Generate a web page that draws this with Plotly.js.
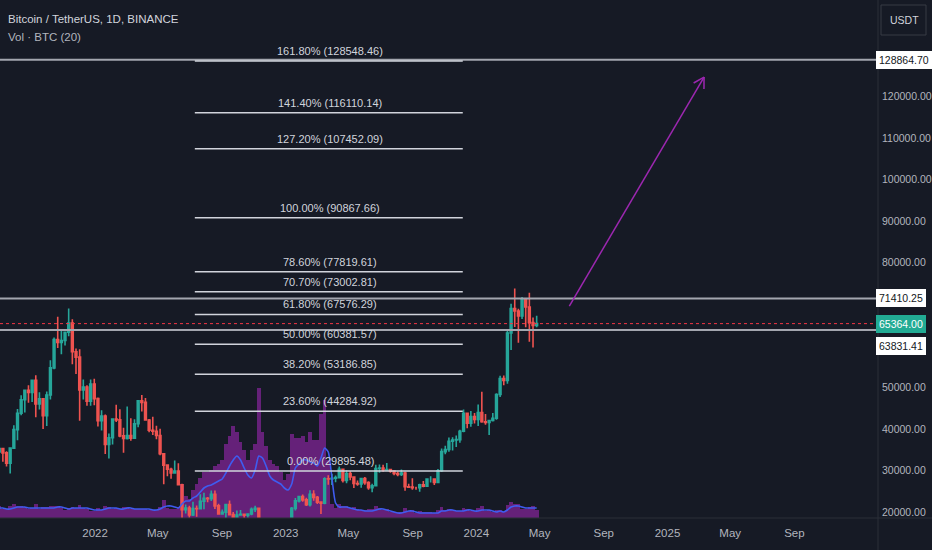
<!DOCTYPE html>
<html>
<head>
<meta charset="utf-8">
<script src="https://cdn.plot.ly/plotly-3.0.1.min.js"></script>
<style>
html,body{margin:0;padding:0;background:#161a25;}
#chart{width:932px;height:550px;}
</style>
</head>
<body>
<div id="chart"></div>
<script>
// ---------- DATA (weekly aggregation of BTC/USDT) ----------
const weekStart = '2021-06-28';
const firstOpen = 34500;
const highs = [36600,35400,34650,34500,40900,44800,48150,49400,50500,51900,
52920,48850,47350,49000,56550,62000,67000,63700,63000,69000,
66400,59400,59200,51900,50500,51900,52100,47600,44500,43500,
38900,42600,45850,44750,40300,45400,42600,42350,46950,48200,
47450,42400,42950,40800,40050,34250,31350,30650,32400,31750,
26800,21850,21550,22500,21600,24300,24650,23650,25200,25200,
22000,20600,21900,22800,20000,20400,20500,19550,19700,21100,
21500,21050,17200,16850,17400,17450,18400,17050,16950,17200,
21250,23400,23900,24250,23450,25250,25250,23900,22600,28400,
28850,29200,28800,31000,30450,30050,29850,28650,27600,28250,
28450,27450,26800,31400,31450,31400,31800,30350,29950,29750,
30250,29700,26800,28150,26100,26850,27500,28050,28600,28000,
30350,35300,35950,37950,38000,38450,39800,44700,43450,44350,
43850,45900,48950,43600,42200,43850,48600,52800,52900,64000,
70150,73800,68950,71750,71350,72800,66850,67250];
const lows = [32700,32100,31000,29280,35200,37300,43300,43950,46300,46500,
42800,44700,40000,40750,47100,54400,59500,58000,60100,62300,
55600,53250,42000,47100,45600,45600,45700,40600,39650,34000,
32900,36250,41700,38000,34300,37500,37200,37600,40450,44200,
42100,39200,38550,37550,33700,26700,28650,28000,29300,26550,
17600,19650,18650,19050,18900,20750,20700,22400,22650,20750,
19800,19550,18550,19350,18150,18450,19100,18200,18650,19250,
20050,15600,15800,15450,16000,16750,16550,16350,16350,16550,
17100,20400,22300,22500,21450,21350,22750,21950,19550,21900,
26600,26500,27200,28200,27150,26950,27650,25800,26350,25850,
26600,25350,24800,26250,29500,29700,30000,29500,28850,28600,
28700,25150,25800,25350,25350,24900,26000,26100,27150,26550,
27100,29650,33900,34500,34800,35650,36700,39200,40200,40550,
41300,40750,41500,41000,38550,41800,42250,47700,50550,50900,
59000,64550,60750,66500,64500,61000,59600,64500];
const closes = [35300,34250,31780,35400,39850,43800,47050,49300,48800,51750,
46000,47250,43200,48200,54700,61500,60850,61300,63300,65500,
58600,57300,49400,50100,46700,50800,47300,42000,43100,36300,
37900,42400,42200,38350,37700,38400,37800,41250,46800,46400,
42150,39700,39450,38450,34050,31300,30300,29450,29900,26600,
20550,21000,19300,20850,20800,22600,23300,23200,24300,21500,
19550,19950,21800,19400,18800,19300,19450,19250,19550,20650,
20900,16300,16280,16450,17100,17100,16750,16850,16600,17150,
20900,22700,23750,22950,21800,24300,23550,22400,22150,28000,
27950,28150,28300,30300,27600,29250,28450,26900,26750,28050,
27100,25850,26350,30500,30600,30150,30250,29850,29300,29050,
29400,26100,26000,25850,25850,26550,26250,27950,27950,27150,
29950,34550,35050,37050,37350,37450,39450,43800,41400,43000,
42300,43950,41750,41600,42050,42600,48300,52150,51700,63100,
69000,68400,67200,71300,69350,65650,64950,65364];
// Volume (thousand BTC per day, weekly view) and its 20-day moving average
const volume = [60,45,45,60,70,60,60,55,45,50,
70,45,55,55,60,60,60,50,40,50,
55,50,65,50,45,35,35,50,40,60,
55,45,50,45,55,55,45,45,45,45,
45,40,40,40,55,90,50,45,45,55,
170,110,95,140,170,200,230,230,240,260,
270,290,370,410,460,430,380,340,290,340,
370,650,430,360,290,270,260,230,190,220,
420,400,400,410,380,430,390,390,520,590,
290,70,50,70,60,60,50,55,45,40,
40,45,45,60,50,40,45,30,30,30,
30,50,35,40,25,35,30,30,30,25,
40,55,40,45,40,35,35,50,45,35,
35,50,60,35,40,30,40,40,30,65,
80,70,70,45,45,55,60,40];
const volMA = [50,50,45,45,50,55,55,55,50,50,
50,50,50,50,50,50,55,55,50,45,
50,50,50,50,50,45,40,40,40,45,
50,50,50,45,45,50,50,45,45,45,
45,45,40,40,45,55,60,60,55,50,
70,85,85,100,110,130,150,160,165,175,
185,195,225,260,290,310,290,250,215,200,
240,310,300,260,210,190,180,170,150,140,
170,250,270,290,290,280,275,260,300,350,
330,200,75,55,55,55,50,45,40,40,
35,35,35,40,45,45,40,35,30,25,
25,30,35,35,30,25,25,25,25,25,
25,35,35,40,40,35,35,35,40,40,
35,35,40,40,40,35,30,35,30,40,
55,60,60,55,50,50,50,50];
// Fibonacci retracement drawing
const fibPct = [0, 23.6, 38.2, 50, 61.8, 70.7, 78.6, 100, 127.2, 141.4, 161.8];
const fibVal = [29895.48, 44284.92, 53186.85, 60381.57, 67576.29, 73002.81, 77819.61, 90867.66, 107452.09, 116110.14, 128548.46];
const fibSpan = ['2022-07-11', '2023-12-06'];
const fibLabelDate = '2023-03-27';
// Horizontal levels and last price
const hLevels = [128864.70, 71410.25, 63831.41];
const lastPrice = 65364.00;
// Arrow drawing: start and tip
const arrowPts = [['2024-06-27', 69600], ['2025-03-12', 124700]];
// Axis ticks
const xTickVals = ['2022-01-01','2022-05-01','2022-09-01','2023-01-01','2023-05-01','2023-09-01','2024-01-01','2024-05-01','2024-09-01','2025-01-01','2025-05-01','2025-09-01'];
const xTickText = ['2022','May','Sep','2023','May','Sep','2024','May','Sep','2025','May','Sep'];
const yTickVals = [20000,30000,40000,50000,80000,90000,100000,110000,120000];

// ---------- BUILD ----------
const DAY = 86400000;
const t0 = Date.parse(weekStart + 'T00:00:00Z');
const dates = closes.map((_, i) => new Date(t0 + i * 7 * DAY + 3.5 * DAY).toISOString());
const opens = closes.map((_, i) => i === 0 ? firstOpen : closes[i - 1]);

const FONT = '"Liberation Sans", Arial, sans-serif';
const FS = 10.5;
const BG = '#161a25';
const xRange = ['2021-07-03', '2026-02-08'];
const yRange = [18580, 143250];
const volRange = [0, 2590];
const plotW = 878, plotH = 518;

const xr = [Date.parse(xRange[0]), Date.parse(xRange[1])];
const msPerPx = (xr[1] - xr[0]) / plotW;
const valPerPx = (yRange[1] - yRange[0]) / plotH;
function toPx(d, v) { return [(Date.parse(d) - xr[0]) / msPerPx, (yRange[1] - v) / valPerPx]; }
function fromPx(px, py) { return [new Date(xr[0] + px * msPerPx).toISOString(), yRange[1] - py * valPerPx]; }

const traces = [
  {
    type: 'bar', x: dates, y: volume, yaxis: 'y', xaxis: 'x',
    width: 7 * DAY, marker: {color: 'rgba(150,38,172,0.62)', line: {width: 0}},
    hoverinfo: 'skip', showlegend: false
  },
  {
    type: 'candlestick', x: dates, open: opens, high: highs, low: lows, close: closes,
    yaxis: 'y2', xaxis: 'x',
    increasing: {line: {color: '#26a69a', width: 1.6}, fillcolor: '#26a69a'},
    decreasing: {line: {color: '#ef5350', width: 1.6}, fillcolor: '#ef5350'},
    whiskerwidth: 0, hoverinfo: 'skip', showlegend: false
  },
  {
    type: 'scatter', mode: 'lines', x: dates, y: volMA, yaxis: 'y3', xaxis: 'x',
    line: {color: '#3f5cf0', width: 1.6, shape: 'spline', smoothing: 0.6},
    hoverinfo: 'skip', showlegend: false
  }
];

const shapes = [];
const annotations = [];

hLevels.forEach(v => {
  shapes.push({type: 'line', xref: 'paper', x0: 0, x1: 1, yref: 'y2', y0: v, y1: v,
    line: {color: '#a3a6af', width: 2}, layer: 'above'});
});
shapes.push({type: 'line', xref: 'paper', x0: 0, x1: 1, yref: 'y2', y0: lastPrice, y1: lastPrice,
  line: {color: '#f23645', width: 1, dash: 'dot'}, layer: 'above'});

fibVal.forEach((v, i) => {
  shapes.push({type: 'line', xref: 'x', yref: 'y2', x0: fibSpan[0], x1: fibSpan[1], y0: v, y1: v,
    line: {color: '#d1d4dc', width: 1.5}, layer: 'above'});
  annotations.push({xref: 'x', yref: 'y2', x: fibLabelDate, y: v, yanchor: 'bottom', xanchor: 'center',
    yshift: 2, showarrow: false,
    text: fibPct[i].toFixed(2) + '% (' + v.toFixed(2) + ')',
    font: {family: FONT, size: 11, color: '#d1d4dc'}});
});

const p0 = toPx(arrowPts[0][0], arrowPts[0][1]);
const p1 = toPx(arrowPts[1][0], arrowPts[1][1]);
shapes.push({type: 'line', xref: 'x', yref: 'y2', x0: arrowPts[0][0], y0: arrowPts[0][1],
  x1: arrowPts[1][0], y1: arrowPts[1][1], line: {color: '#9c27b0', width: 1.5}, layer: 'above'});
{
  const dx = p0[0] - p1[0], dy = p0[1] - p1[1];
  const L = Math.hypot(dx, dy), ux = dx / L, uy = dy / L;
  [Math.PI / 6, -Math.PI / 6].forEach(a => {
    const rx = ux * Math.cos(a) - uy * Math.sin(a);
    const ry = ux * Math.sin(a) + uy * Math.cos(a);
    const e = fromPx(p1[0] + rx * 12, p1[1] + ry * 12);
    shapes.push({type: 'line', xref: 'x', yref: 'y2', x0: arrowPts[1][0], y0: arrowPts[1][1],
      x1: e[0], y1: e[1], line: {color: '#9c27b0', width: 1.5}, layer: 'above'});
  });
}

function priceLabel(v, bg, fg, shift) {
  annotations.push({xref: 'paper', yref: 'y2', x: 1, y: v, xanchor: 'left', yanchor: 'middle',
    xshift: -2, yshift: shift || 0, showarrow: false, text: v.toFixed(2),
    bgcolor: bg, bordercolor: bg, borderpad: 2,
    font: {family: FONT, size: FS, color: fg}});
}
priceLabel(hLevels[0], '#ffffff', '#131722');
priceLabel(hLevels[1], '#ffffff', '#131722');
priceLabel(lastPrice, '#22ab94', '#ffffff');
priceLabel(hLevels[2], '#ffffff', '#131722', -16);

shapes.push({type: 'line', xref: 'paper', yref: 'paper', x0: 1, x1: 1, y0: -32 / plotH, y1: 1,
  line: {color: '#2a2e39', width: 1}, layer: 'above'});
shapes.push({type: 'line', xref: 'paper', yref: 'paper', x0: 0, x1: 932 / plotW, y0: 0, y1: 0,
  line: {color: '#2a2e39', width: 1}, layer: 'above'});
shapes.push({type: 'path', xref: 'paper', yref: 'paper',
  path: (function () {
    const x0 = 881 / plotW, x1 = 926 / plotW, y0 = (plotH - 35) / plotH, y1 = (plotH - 5) / plotH;
    return 'M' + x0 + ',' + y0 + ' L' + x1 + ',' + y0 + ' L' + x1 + ',' + y1 + ' L' + x0 + ',' + y1 + ' Z';
  })(),
  line: {color: '#363a45', width: 1}, fillcolor: 'rgba(0,0,0,0)', layer: 'above'});
annotations.push({xref: 'paper', yref: 'paper', x: 888 / plotW, y: (plotH - 20) / plotH,
  xanchor: 'left', yanchor: 'middle', showarrow: false, text: 'USDT',
  font: {family: FONT, size: FS, color: '#d1d4dc'}});

annotations.push({xref: 'paper', yref: 'paper', x: 6 / plotW, y: (plotH - 19) / plotH,
  xanchor: 'left', yanchor: 'middle', showarrow: false, text: 'Bitcoin / TetherUS, 1D, BINANCE',
  font: {family: FONT, size: 11.5, color: '#d1d4dc'}});
annotations.push({xref: 'paper', yref: 'paper', x: 6 / plotW, y: (plotH - 37) / plotH,
  xanchor: 'left', yanchor: 'middle', showarrow: false, text: 'Vol · BTC (20)',
  font: {family: FONT, size: 11.5, color: '#b2b5be'}});

const layout = {
  width: 932, height: 550,
  margin: {l: 0, r: 54, t: 0, b: 32, pad: 0},
  paper_bgcolor: BG, plot_bgcolor: BG,
  showlegend: false, bargap: 0,
  font: {family: FONT, size: FS, color: '#b2b5be'},
  xaxis: {
    type: 'date', range: xRange, rangeslider: {visible: false},
    tickvals: xTickVals, ticktext: xTickText, ticks: '', showgrid: false, zeroline: false,
    showline: false, tickfont: {family: FONT, size: 11.5, color: '#b2b5be'}, ticklabelstandoff: 6,
    fixedrange: true
  },
  yaxis: {range: volRange, visible: false, fixedrange: true},
  yaxis2: {
    overlaying: 'y', side: 'right', anchor: 'x', range: yRange,
    tickvals: yTickVals, ticktext: yTickVals.map(v => v.toFixed(2)),
    ticks: '', showgrid: false, zeroline: false, showline: false,
    tickfont: {family: FONT, size: FS, color: '#b2b5be'}, ticklabelstandoff: 3,
    fixedrange: true
  },
  yaxis3: {overlaying: 'y', range: volRange, visible: false, fixedrange: true},
  shapes: shapes, annotations: annotations
};

Plotly.newPlot('chart', traces, layout, {staticPlot: true, displayModeBar: false});
</script>
</body>
</html>
